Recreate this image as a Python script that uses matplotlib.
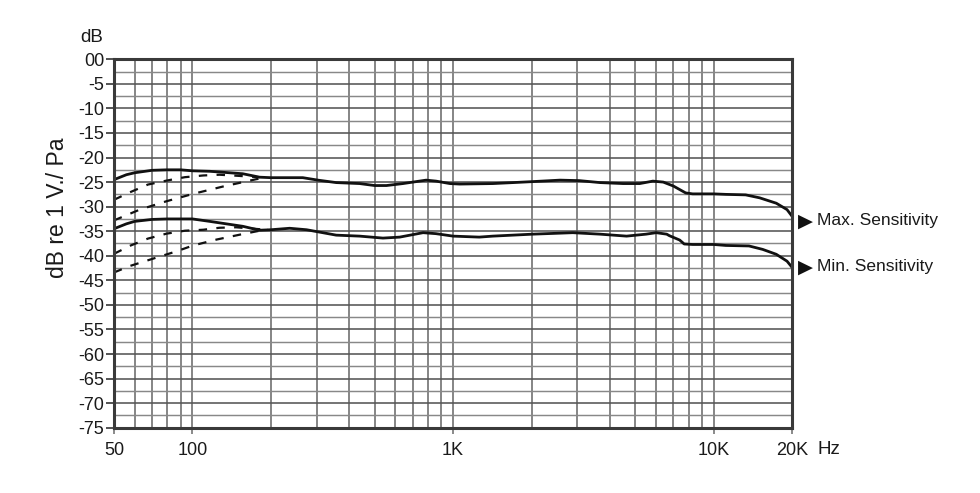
import matplotlib
matplotlib.use("Agg")
import matplotlib.pyplot as plt
from matplotlib.ticker import FixedLocator, NullFormatter

plt.rcParams['font.family'] = ['Liberation Sans', 'DejaVu Sans']

# ---- data ----
freq_max = [50, 55.8, 60, 70, 80, 90, 100, 116.5, 156, 181, 200, 265, 303, 356, 438, 500, 555, 642,
            788, 860, 972, 1060, 1420, 1700, 2020, 2570, 3050, 3660, 4490, 5200, 5840, 6400, 7000,
            7800, 8300, 10000, 11130, 13250, 14990, 17370, 19100, 20000]
max_sens = [-24.5, -23.5, -23.1, -22.6, -22.5, -22.5, -22.7, -22.8, -23.3, -24.0, -24.1, -24.1, -24.6,
            -25.1, -25.3, -25.7, -25.7, -25.3, -24.6, -24.8, -25.3, -25.4, -25.3, -25.1, -24.9,
            -24.6, -24.7, -25.1, -25.3, -25.3, -24.8, -25.0, -25.8, -27.2, -27.4, -27.4, -27.5,
            -27.6, -28.2, -29.3, -30.6, -32.0]

freq_min = [50, 55.8, 60, 70, 80, 90, 100, 116.5, 156, 181, 200, 236, 274, 356, 438, 538, 624, 767,
            860, 1000, 1260, 1420, 2020, 2880, 3660, 4630, 5500, 6010, 6600, 6750, 7400, 7700, 8300,
            10000, 11130, 13650, 15400, 17370, 19100, 20000]
min_sens = [-34.5, -33.5, -33.0, -32.6, -32.5, -32.5, -32.5, -33.0, -34.0, -34.8, -34.7, -34.4,
            -34.7, -35.8, -36.0, -36.4, -36.2, -35.3, -35.5, -36.0, -36.2, -36.0, -35.6, -35.3,
            -35.6, -36.0, -35.6, -35.3, -35.6, -35.9, -36.8, -37.6, -37.7, -37.7, -37.9, -38.0,
            -38.7, -39.7, -41.1, -42.4]

# low-cut (dashed) variants
max_cut1_f = [50, 58, 67.5, 79.5, 93.5, 110, 127, 147, 181]
max_cut1 = [-28.6, -27.0, -25.5, -24.7, -24.0, -23.65, -23.5, -23.7, -24.0]
max_cut2_f = [50, 62.8, 79.5, 100.5, 131, 176, 192]
max_cut2 = [-32.8, -30.6, -28.9, -27.4, -25.9, -24.4, -24.1]
min_cut1_f = [50, 58, 67.5, 79.5, 93.5, 110, 127, 147, 192]
min_cut1 = [-39.6, -37.9, -36.5, -35.5, -34.9, -34.7, -34.3, -34.2, -34.7]
min_cut2_f = [50, 57.4, 70.5, 86.8, 100.6, 123.7, 152, 181, 195]
min_cut2 = [-43.4, -42.1, -40.6, -39.1, -37.9, -36.7, -35.7, -34.9, -34.7]

x_major = [50, 100, 1000, 10000, 20000]
x_major_labels = ["50", "100", "1K", "10K", "20K"]
x_minor = [60, 70, 80, 90, 200, 300, 400, 500, 600, 700, 800, 900,
           2000, 3000, 4000, 5000, 6000, 7000, 8000, 9000]
y_major = list(range(0, -80, -5))
y_major_labels = ["00"] + [f"-{abs(v)}" for v in y_major[1:]]
y_minor = [v - 2.5 for v in y_major[:-1]]

# ---- figure ----
fig = plt.figure(figsize=(9.8, 4.93), dpi=100)
ax = fig.add_axes([0.1163, 0.1325, 0.6921, 0.7472])
ax.set_xscale('log')
ax.set_xlim(50, 20000)
ax.set_ylim(-75, 0)

for v in x_major[1:-1] + x_minor:
    ax.axvline(v, color='#6a6a6a', lw=1.15, zorder=1)
for v in y_major[1:-1]:
    ax.axhline(v, color='#555555', lw=1.15, zorder=1)
for v in y_minor:
    ax.axhline(v, color='#888888', lw=1.05, zorder=1)

ax.xaxis.set_major_locator(FixedLocator(x_major))
ax.set_xticklabels(x_major_labels)
ax.xaxis.set_minor_locator(FixedLocator(x_minor))
ax.xaxis.set_minor_formatter(NullFormatter())
ax.yaxis.set_major_locator(FixedLocator(y_major))
ax.set_yticklabels(y_major_labels)
ax.yaxis.set_minor_locator(FixedLocator(y_minor))

ax.tick_params(axis='x', which='major', length=4, width=1.2, color='#777777',
               labelsize=13, pad=6, colors='#1a1a1a')
ax.tick_params(axis='y', which='major', length=6, width=1.3, color='#444444',
               labelsize=13, pad=1, colors='#1a1a1a')
ax.tick_params(which='minor', length=0)

for s in ax.spines.values():
    s.set_color('#3a3a3a')
    s.set_linewidth(2.2)
    s.set_zorder(5)

ax.plot(freq_max, max_sens, color='#111111', lw=2.0, zorder=4, solid_joinstyle='round')
ax.plot(freq_min, min_sens, color='#111111', lw=2.0, zorder=4, solid_joinstyle='round')
for f, v in [(max_cut1_f, max_cut1), (max_cut2_f, max_cut2),
             (min_cut1_f, min_cut1), (min_cut2_f, min_cut2)]:
    ax.plot(f, v, color='#111111', lw=1.6, dashes=(3.8, 4.2), zorder=3)

# axis title (rotated)
fig.text(57 / 980, 1 - 208 / 493, "dB re 1 V./ Pa", fontsize=16.5, rotation=90,
         ha='center', va='center', color='#1a1a1a')

# annotations
fig.text(91.5 / 980, 1 - 38 / 493, "dB", fontsize=13.5, ha='center', va='center', color='#1a1a1a')
fig.text(817 / 980, 1 - 450 / 493, "Hz", fontsize=13.5, ha='left', va='center', color='#1a1a1a')
fig.text(798 / 980, 1 - 221 / 493, "\u25B6", fontsize=14, ha='left', va='center',
         color='#111111', family=['DejaVu Sans'])
fig.text(817 / 980, 1 - 221 / 493, "Max. Sensitivity", fontsize=12.5, ha='left', va='center',
         color='#1a1a1a')
fig.text(798 / 980, 1 - 267 / 493, "\u25B6", fontsize=14, ha='left', va='center',
         color='#111111', family=['DejaVu Sans'])
fig.text(817 / 980, 1 - 267 / 493, "Min. Sensitivity", fontsize=12.5, ha='left', va='center',
         color='#1a1a1a')

fig.savefig("out.png", dpi=100, facecolor='white')
